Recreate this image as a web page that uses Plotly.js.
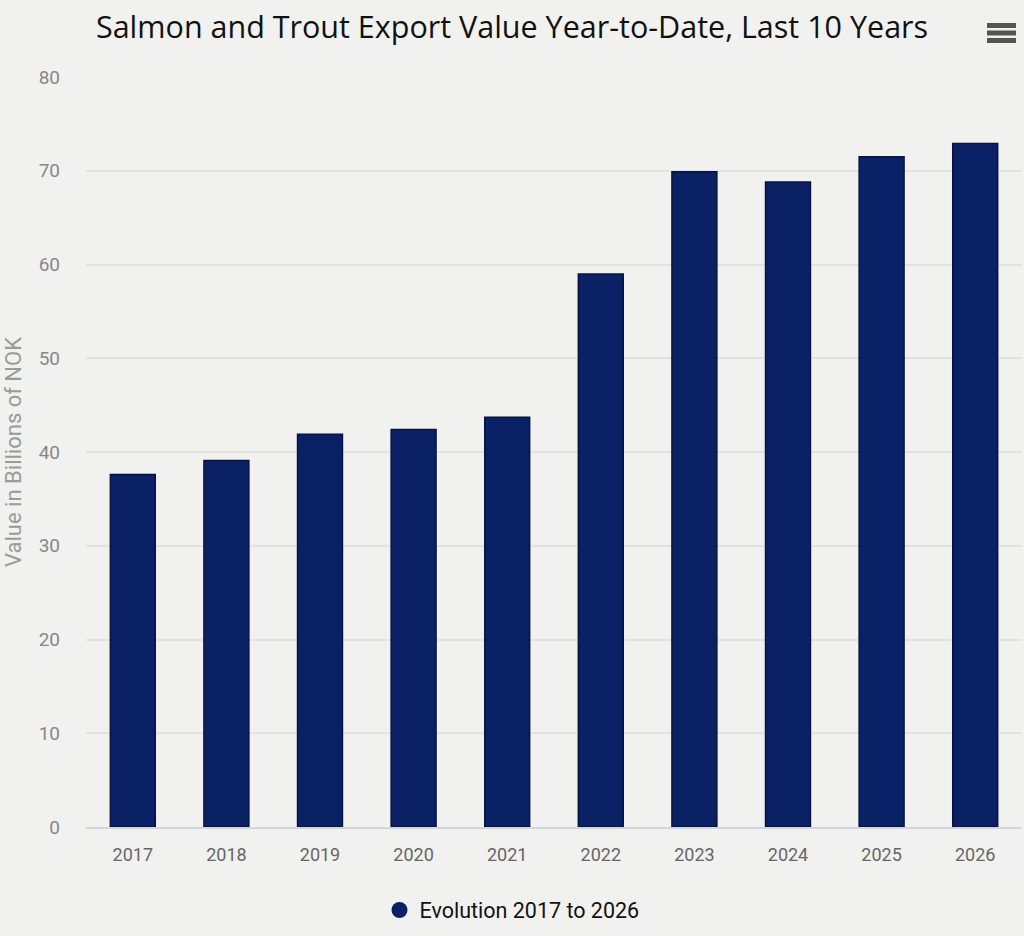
<!DOCTYPE html>
<html>
<head>
<meta charset="utf-8">
<script src="https://cdn.plot.ly/plotly-3.0.1.min.js"></script>
<style>
  html, body { margin: 0; padding: 0; background: #f1f1ef; }
  #chart { width: 1024px; height: 936px; }
</style>
</head>
<body>
<div id="chart"></div>
<script>
const years = ['2017', '2018', '2019', '2020', '2021', '2022', '2023', '2024', '2025', '2026'];
const exportValues = [37.6, 39.1, 41.9, 42.4, 43.7, 59.0, 69.9, 68.8, 71.5, 72.9];
const seriesName = 'Evolution 2017 to 2026';
const yTicks = [0, 10, 20, 30, 40, 50, 60, 70, 80];

const barColor = '#0b2166';
const bg = '#f1f1ef';

const traces = [
  {
    type: 'bar',
    x: years,
    y: exportValues,
    name: seriesName,
    showlegend: false,
    marker: { color: barColor, line: { color: '#07143f', width: 1.5 } },
    hoverinfo: 'x+y'
  },
  {
    type: 'scatter',
    mode: 'markers',
    x: [null],
    y: [null],
    name: seriesName,
    showlegend: true,
    marker: { color: barColor, size: 20, symbol: 'circle' },
    hoverinfo: 'skip'
  }
];

const hx0 = (987 - 86) / 936, hx1 = (1016 - 86) / 936;
const hy = [25.5, 33, 40.5].map(p => (827 - p) / 750);

const layout = {
  width: 1024,
  height: 936,
  paper_bgcolor: bg,
  plot_bgcolor: bg,
  margin: { l: 86, r: 2, t: 77, b: 109, autoexpand: false },
  font: { family: 'Roboto, "Open Sans", sans-serif', color: '#666' },
  title: {
    text: 'Salmon and Trout Export Value Year-to-Date, Last 10 Years',
    font: { family: '"Open Sans", Roboto, sans-serif', size: 30.5, color: '#111' },
    xref: 'container', x: 0.5, xanchor: 'center',
    yref: 'container', y: 1 - 27 / 936, yanchor: 'middle'
  },
  bargap: 0.52,
  xaxis: {
    type: 'category',
    tickfont: { size: 18, color: '#666' },
    ticks: '',
    ticklabelstandoff: 10,
    showgrid: false,
    showline: true,
    linecolor: '#d2d5de',
    linewidth: 2,
    automargin: false
  },
  yaxis: {
    range: [0, 80],
    tickvals: yTicks,
    ticktext: yTicks.map(String),
    tickfont: { size: 19, color: '#888' },
    ticks: '',
    ticklabelstandoff: 25,
    showgrid: true,
    gridcolor: '#e2e2e0',
    gridwidth: 1.5,
    zeroline: false,
    automargin: false,
    title: {
      text: 'Value in Billions of NOK',
      font: { size: 22, color: '#9a9a9a' },
      standoff: 10
    }
  },
  legend: {
    orientation: 'h',
    itemsizing: 'trace',
    xref: 'container', x: 0.5, xanchor: 'center',
    yref: 'container', y: 1 - 910 / 936, yanchor: 'middle',
    font: { size: 21.5, color: '#111' },
    bgcolor: 'rgba(0,0,0,0)'
  },
  shapes: hy.map(y => ({
    type: 'line', xref: 'paper', yref: 'paper',
    x0: hx0, x1: hx1, y0: y, y1: y,
    line: { color: '#555', width: 5 }
  })),
  hovermode: 'closest'
};

Plotly.newPlot('chart', traces, layout, { displayModeBar: false, responsive: false });
</script>
</body>
</html>
